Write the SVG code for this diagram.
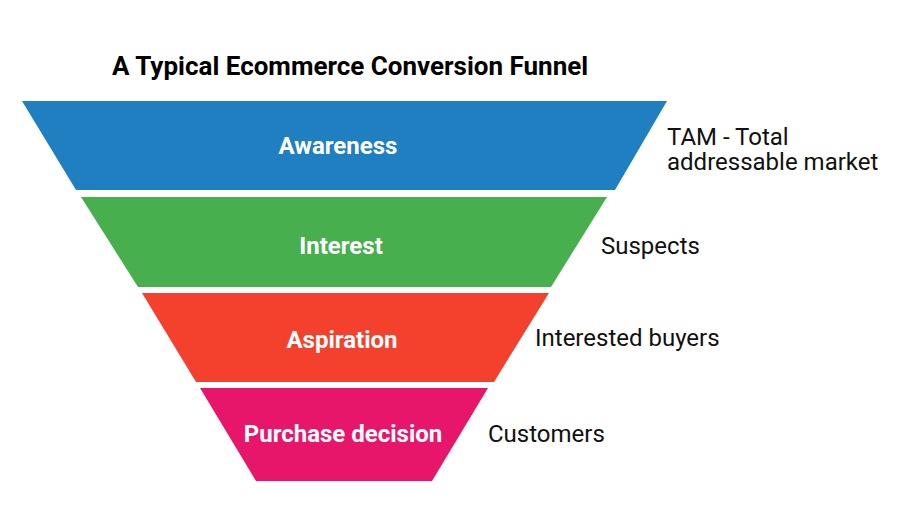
<svg xmlns="http://www.w3.org/2000/svg" width="900" height="514" viewBox="0 0 900 514">
<style>
.title{font-family:Roboto,"Liberation Sans",sans-serif;font-weight:bold;font-size:26px;fill:#000}
.stage{font-family:Roboto,"Liberation Sans",sans-serif;font-weight:bold;font-size:24px;fill:#fff;text-anchor:middle}
.side{font-family:Roboto,"Liberation Sans",sans-serif;font-size:24px;fill:#111}
</style>
<rect width="900" height="514" fill="#fff"/>
<text class="title" x="112" y="75">A Typical Ecommerce Conversion Funnel</text>
<g id="connectors"></g>
<g id="awareness">
<polygon points="22,101 667,101 615,190 76,190" fill="#1F7FC0"/>
<text class="stage" x="338" y="154">Awareness</text>
</g>
<g id="interest">
<polygon points="81,197 607,197 551,287 138,287" fill="#47AF4D"/>
<text class="stage" x="341" y="254">Interest</text>
</g>
<g id="aspiration">
<polygon points="142,293 549,293 494,382 196,382" fill="#F3412E"/>
<text class="stage" x="342" y="348">Aspiration</text>
</g>
<g id="purchase">
<polygon points="200,388 488,388 432,481 256,481" fill="#E8166A"/>
<text class="stage" x="343" y="442">Purchase decision</text>
</g>
<g id="labels">
<text class="side" x="667" y="145">TAM - Total</text>
<text class="side" x="667" y="170">addressable market</text>
<text class="side" x="601" y="254">Suspects</text>
<text class="side" x="535" y="346">Interested buyers</text>
<text class="side" x="488" y="442">Customers</text>
</g>
</svg>
